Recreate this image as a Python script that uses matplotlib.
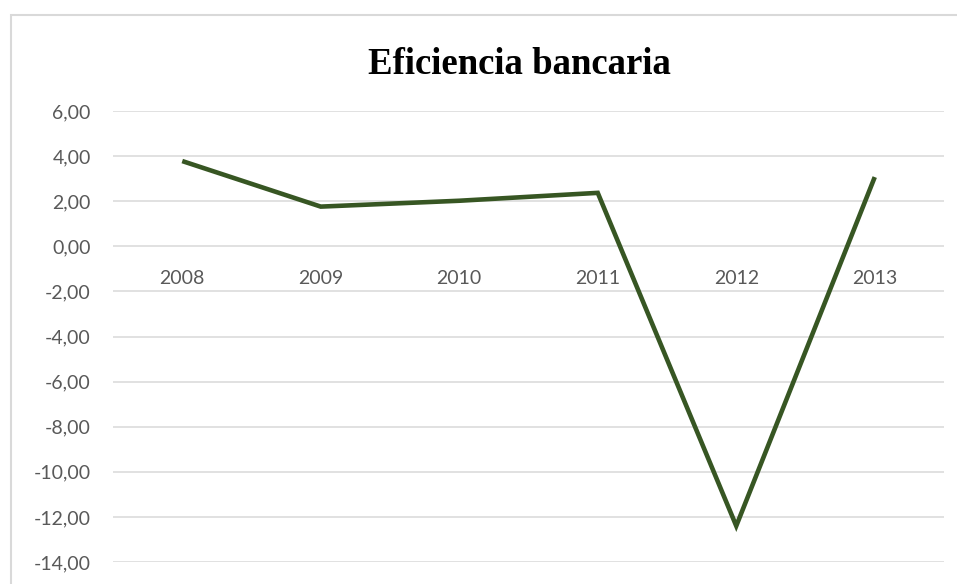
import matplotlib.pyplot as plt
from matplotlib.patches import Rectangle
from matplotlib.ticker import FuncFormatter

years = ['2008', '2009', '2010', '2011', '2012', '2013']
eficiencia = [3.78, 1.76, 2.02, 2.37, -12.40, 3.07]
y_ticks = [6, 4, 2, 0, -2, -4, -6, -8, -10, -12, -14]

line_color = '#375623'
grid_color = '#d9d9d9'
label_color = '#595959'

fig = plt.figure(figsize=(9.57, 5.84), dpi=100)

# outer chart border (Excel style), cut off at the bottom and right
fig.patches.append(Rectangle((11 / 957, -0.1), 1.1, 1 - 15 / 584 + 0.1,
                             transform=fig.transFigure, fill=False,
                             edgecolor=grid_color, linewidth=1.5))

ax = fig.add_axes([113 / 957, 1 - 562 / 584, (944 - 113) / 957, (562 - 111) / 584])
x = list(range(len(years)))
ax.plot(x, eficiencia, color=line_color, linewidth=3.3, solid_joinstyle='miter',
        solid_capstyle='butt', zorder=3)

ax.set_xlim(-0.5, len(years) - 0.5)
ax.set_ylim(min(y_ticks), max(y_ticks))
ax.set_yticks(y_ticks)
ax.yaxis.set_major_formatter(FuncFormatter(lambda v, p: f'{v:.2f}'.replace('.', ',')))
ax.tick_params(axis='y', length=0, pad=16, labelsize=14, labelcolor=label_color)
for t in ax.get_yticklabels():
    t.set_fontfamily('Lato')
ax.set_xticks([])
ax.grid(axis='y', color=grid_color, linewidth=1.1)
ax.set_axisbelow(True)
for s in ax.spines.values():
    s.set_visible(False)

# category labels sit just under the zero line
for i, yr in enumerate(years):
    ax.annotate(yr, (i, 0), xytext=(0, -23), textcoords='offset points',
                ha='center', va='center', fontsize=14, color=label_color,
                fontfamily='Lato')

fig.text(519 / 957, 1 - 65 / 584, 'Eficiencia bancaria', ha='center', va='center',
         fontsize=26.5, fontweight='bold', fontfamily='Liberation Serif')

fig.savefig('out.png', dpi=100)
